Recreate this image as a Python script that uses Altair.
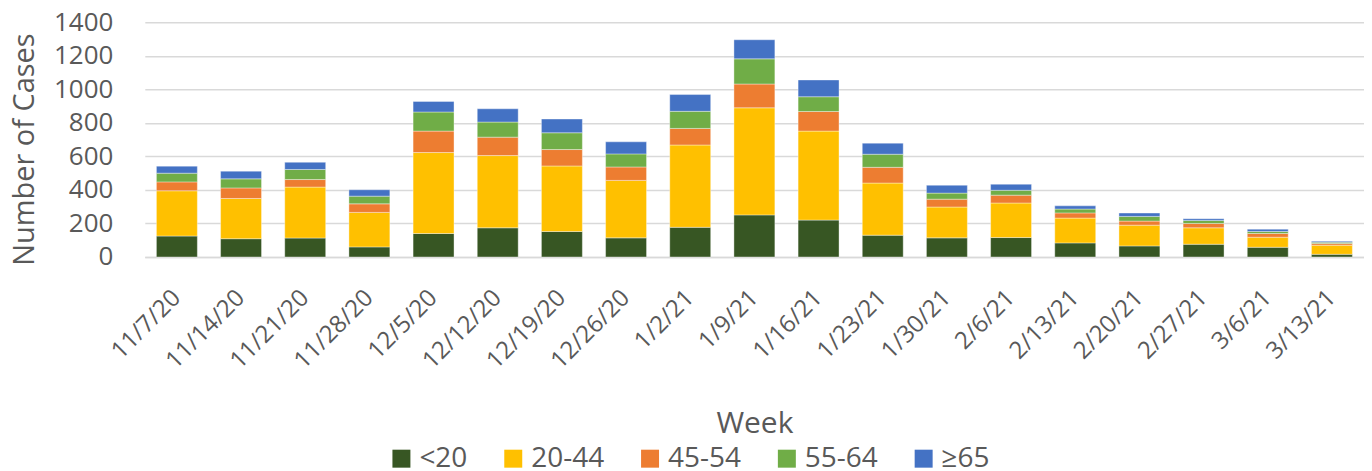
import altair as alt
import pandas as pd

weeks = ["11/7/20", "11/14/20", "11/21/20", "11/28/20", "12/5/20", "12/12/20",
         "12/19/20", "12/26/20", "1/2/21", "1/9/21", "1/16/21", "1/23/21",
         "1/30/21", "2/6/21", "2/13/21", "2/20/21", "2/27/21", "3/6/21", "3/13/21"]
groups = ["<20", "20-44", "45-54", "55-64", "≥65"]
colors = ["#375623", "#FFC000", "#ED7D31", "#70AD47", "#4472C4"]

u20 = [125, 109, 113, 60, 140, 174, 152, 114, 177, 251, 220, 130, 114, 116, 84, 66, 76, 58, 16]
a20_44 = [270, 240, 304, 206, 483, 431, 391, 343, 491, 639, 531, 311, 184, 206, 148, 124, 98, 60, 54]
a45_54 = [53, 63, 45, 51, 128, 110, 98, 80, 99, 142, 117, 94, 47, 47, 31, 24, 26, 22, 10]
a55_64 = [52, 54, 60, 46, 114, 90, 100, 78, 102, 150, 88, 78, 36, 29, 23, 28, 18, 12, 8]
a65 = [42, 46, 43, 38, 63, 79, 82, 72, 100, 114, 100, 66, 47, 36, 19, 20, 10, 14, 6]

series = [u20, a20_44, a45_54, a55_64, a65]
rows = []
for gi, (g, vals) in enumerate(zip(groups, series)):
    for w, v in zip(weeks, vals):
        rows.append({"Week": w, "Group": g, "Cases": v, "ord": gi})
df = pd.DataFrame(rows)

FONT = "Open Sans"
TXT = "#595959"

chart = alt.Chart(df).mark_bar(stroke="white", strokeWidth=0.75, strokeOpacity=0.5).encode(
    x=alt.X("Week:N", sort=weeks,
            scale=alt.Scale(paddingInner=0.362, paddingOuter=0.181),
            axis=alt.Axis(title="Week", labelAngle=-45, labelAlign="right",
                          labelBaseline="middle", labelPadding=37, ticks=False,
                          tickSize=0, labelFontSize=24, labelColor=TXT,
                          labelFont=FONT, titleFont=FONT, titleFontSize=30,
                          titleFontWeight="normal", titleColor=TXT,
                          titleBaseline="alphabetic", titleY=176,
                          domainColor="#D9D9D9", domainWidth=1.5, grid=False)),
    y=alt.Y("Cases:Q", stack="zero",
            scale=alt.Scale(domain=[0, 1400], nice=False),
            axis=alt.Axis(title="Number of Cases", values=list(range(0, 1401, 200)),
                          format="d",
                          ticks=False, tickSize=0, domain=False, labelPadding=32,
                          labelFontSize=26, labelColor=TXT, labelFont=FONT,
                          titleFont=FONT, titleFontSize=29, titleFontWeight="normal",
                          titleColor=TXT, titleBaseline="alphabetic", titleX=-111,
                          titleY=127,
                          gridColor="#D9D9D9", gridWidth=1.5)),
    color=alt.Color("Group:N", sort=groups,
                    scale=alt.Scale(domain=groups, range=colors),
                    legend=alt.Legend(title=None, orient="none", legendX=243, legendY=423,
                                      direction="horizontal", columns=5,
                                      symbolType="square", symbolSize=324,
                                      symbolStrokeWidth=0, labelFontSize=28,
                                      labelFont=FONT, labelColor=TXT, labelOffset=4,
                                      columnPadding=31)),
    order=alt.Order("ord:Q", sort="ascending"),
).properties(
    width=1221, height=235,
    autosize=alt.AutoSizeParams(type="none"),
    padding={"left": 137, "top": 14, "right": 0, "bottom": 214},
).configure_view(stroke=None)

chart.save("out.html", embed_options={"renderer": "svg", "actions": False})
